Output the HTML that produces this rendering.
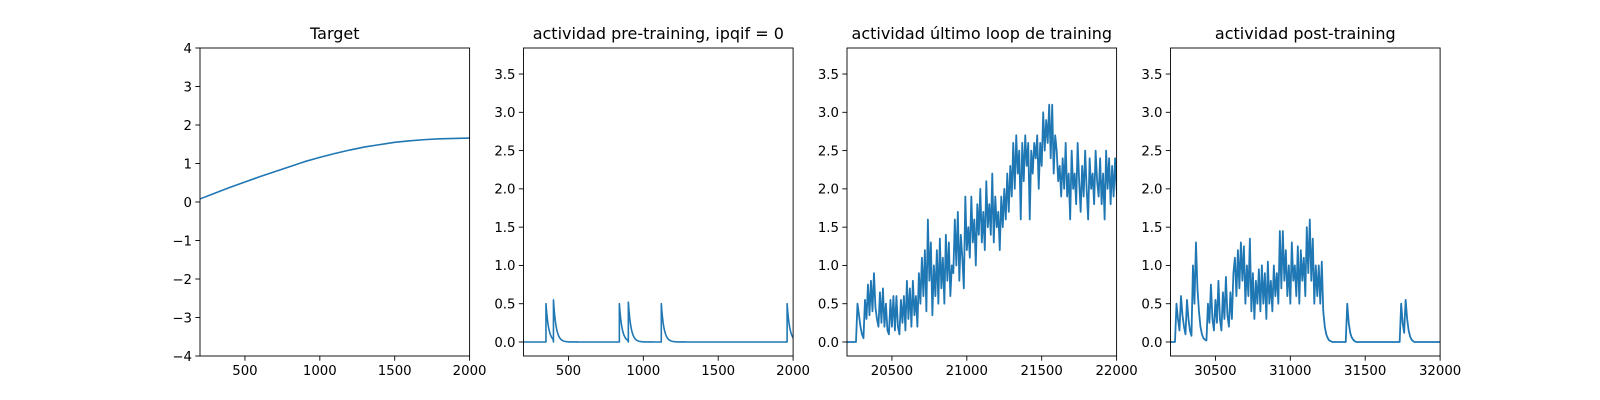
<!DOCTYPE html>
<html><head><meta charset="utf-8"><style>
body{margin:0;background:#fff;}
svg{display:block;font-family:"DejaVu Sans","Liberation Sans",sans-serif;}
</style></head><body>
<svg id="fig" width="1600" height="400" viewBox="0 0 1600 400"></svg>
<script>
// ---- data ----
const p1X = [200,300,400,500,600,700,800,900,1000,1100,1200,1300,1400,1500,1600,1700,1800,1900,2000];
const p1Y = [0.08,0.23,0.38,0.52,0.66,0.79,0.92,1.05,1.16,1.26,1.35,1.43,1.49,1.55,1.59,1.62,1.64,1.65,1.66];

const p2SpikeTimes = [350,400,840,900,1120,1960];
const p2SpikeHeights = [0.5,0.55,0.5,0.52,0.5,0.5];

const p3Starts = [20200,20270,20320,20420,20520,20620,20720,20820,20920,21020,21120,21220,21320,21420,21520,21620,21720,21820,21920];
const p3Values = [
[0,0,0,0,0,0,0],
[0.5,0.35,0.2,0.1,0.05],
[0.55,0.3,0.75,0.35,0.8,0.4,0.9,0.45,0.3,0.2],
[0.65,0.25,0.7,0.2,0.5,0.15,0.1,0.55,0.2,0.6],
[0.15,0.6,0.2,0.1,0.55,0.25,0.6,0.15,0.8,0.3],
[0.7,0.2,0.8,0.35,0.6,0.2,0.9,0.5,1.1,0.6],
[1.2,0.4,1.6,0.8,1.3,0.35,1.0,0.6,1.2,0.5],
[1.35,0.7,1.1,0.5,1.4,0.8,1.3,0.6,1.0,0.9],
[1.6,1.0,1.7,0.8,1.4,1.1,0.7,1.9,1.2,1.5],
[1.1,1.9,1.3,1.6,1.0,1.8,1.4,2.0,1.3,1.7],
[1.2,2.1,1.5,1.8,1.4,2.2,1.3,1.9,1.5,1.7],
[1.2,1.9,1.5,2.0,1.6,2.2,1.7,2.3,1.9,2.6],
[2.0,2.7,2.2,2.5,1.6,2.6,2.1,2.7,2.3,2.6],
[1.6,2.5,2.2,2.6,2.4,2.7,2.0,2.6,2.3,3.0],
[2.5,2.9,2.6,3.1,2.4,3.1,2.2,2.7,2.5,2.1],
[2.3,1.9,2.4,2.0,2.6,1.9,2.2,1.6,2.5,2.0],
[2.2,1.8,2.6,2.1,1.7,2.3,1.9,2.5,2.0,1.6],
[2.4,2.0,2.2,1.8,2.5,2.1,1.9,2.4,1.8,2.2],
[1.6,2.5,2.0,2.4,1.8,2.3,1.9,2.4,2.0,1.8]
];

const p4Starts = [30200,30240,30340,30440,30540,30640,30740,30840,30940,31040,31140,31240,31340,31440,31730,31830];
const p4Values = [
[0,0,0,0],
[0.5,0.3,0.15,0.6,0.35,0.2,0.1,0.55,0.3,0.15],
[0.08,1.0,0.5,1.3,0.7,0.4,0.2,0.1,0.05,0.03],
[0.02,0.5,0.25,0.75,0.3,0.15,0.55,0.25,0.8,0.3],
[0.15,0.65,0.3,0.85,0.35,0.2,0.65,0.3,0.9,1.1],
[0.6,1.2,0.7,1.3,0.8,1.25,0.5,1.0,0.6,1.35],
[0.4,0.9,0.3,0.8,0.5,0.95,0.4,1.0,0.5,0.9],
[0.3,1.05,0.5,0.8,0.4,1.0,0.6,0.9,0.5,1.45],
[0.7,1.45,0.8,1.2,0.6,1.0,0.5,1.3,0.8,1.0],
[0.6,1.25,0.5,1.2,0.8,1.1,0.6,1.5,0.9,1.6],
[0.8,1.35,0.5,1.0,0.6,1.0,0.5,1.05,0.4,0.2],
[0.1,0.05,0.02,0.01,0,0,0,0,0,0],
[0,0,0,0,0.5,0.25,0.12,0.06,0.03,0.01],
[0,0],
[0,0.5,0.25,0.12,0.55,0.3,0.15,0.07,0.03,0.01],
[0,0]
];

const p1YTicks = [-4,-3,-2,-1,0,1,2,3,4];
const actYTicks = [0,0.5,1,1.5,2,2.5,3,3.5];
const p1XTicks = [500,1000,1500,2000];
const p3XTicks = [20500,21000,21500,22000];
const p4XTicks = [30500,31000,31500,32000];

// ---- layout ----
const NS = "http://www.w3.org/2000/svg";
const svg = document.getElementById('fig');
const axTop = 48, axBot = 356, W = 269.6, gap = 53.9, L0 = 200;
const blue = "#1f77b4";
function mk(tag, attrs, parent){const e=document.createElementNS(NS,tag);for(const k in attrs)e.setAttribute(k,attrs[k]);(parent||svg).appendChild(e);return e;}

function panel(i, xmin, xmax, ymin, ymax, xt, yt, yfmt, title, name){
  const left = L0 + i*(W+gap), right = left+W;
  const sx = v => left + (v-xmin)/(xmax-xmin)*W;
  const sy = v => axBot - (v-ymin)/(ymax-ymin)*(axBot-axTop);
  const g = mk('g',{});
  
  
  const clipId = 'clip'+i;
  const cp = mk('clipPath',{id:clipId},g);
  mk('rect',{x:left,y:axTop,width:W,height:axBot-axTop},cp);
  const t = mk('text',{x:left+W/2,y:39,'text-anchor':'middle','font-size':'16'},g);
  t.textContent = title;
  
  
  xt.forEach(v=>{
    const x=sx(v);
    mk('line',{x1:x,x2:x,y1:axBot,y2:axBot+4.7,stroke:'#000','stroke-width':0.9},g);
    const tx=mk('text',{x:x,y:axBot+19,'text-anchor':'middle','font-size':'13.3'},g);
    tx.textContent=String(v);
    
    
  });
  yt.forEach(v=>{
    const y=sy(v);
    mk('line',{x1:left-4.7,x2:left,y1:y,y2:y,stroke:'#000','stroke-width':0.9},g);
    const ty=mk('text',{x:left-8,y:y+4.8,'text-anchor':'end','font-size':'13.3'},g);
    ty.textContent=yfmt(v);
    
    
  });
  return {g, sx, sy, clipId, left, right};
}
function drawLine(p, pts, name, sw){
  const d = pts.map((q,k)=>(k?'L':'M')+p.sx(q[0]).toFixed(2)+','+p.sy(q[1]).toFixed(2)).join('');
  const path = mk('path',{d:d,fill:'none',stroke:blue,'stroke-width':sw||1.5,'stroke-linejoin':'round','clip-path':'url(#'+p.clipId+')'},p.g);
  
  
}
function frame(p){
  const r = mk('rect',{x:p.left,y:axTop,width:W,height:axBot-axTop,fill:'none',stroke:'#000','stroke-width':0.9},p.g);
  
  
}
function chunks(starts, vals){
  const pts=[];
  starts.forEach((s,ci)=>vals[ci].forEach((v,k)=>pts.push([s+k*10,v])));
  const last = pts[pts.length-1];
  pts.push([last[0]+400,0]);
  return pts;
}
const minus = s => s.replace('-','\u2212');
const f1 = v => minus(String(v));
const f2 = v => v.toFixed(1);
const YMIN=-0.183, YMAX=3.84;

// panel 1
const P1 = panel(0,200,2000,-4,4,p1XTicks,p1YTicks,f1,'Target','target-panel');
drawLine(P1, p1X.map((x,k)=>[x,p1Y[k]]), 'target-line', 1.6);
frame(P1);

// panel 2
const P2 = panel(1,200,2000,YMIN,YMAX,p1XTicks,actYTicks,f2,'actividad pre-training, ipqif = 0','pre-training-panel');
(function(){
  const pts=[[200,0]];
  const tau=18;
  p2SpikeTimes.forEach((t,k)=>{
    const next = k+1<p2SpikeTimes.length ? p2SpikeTimes[k+1] : 2100;
    pts.push([t,0]);
    for(let dt=0; t+dt<next; dt+=3){ pts.push([t+dt, p2SpikeHeights[k]*Math.exp(-dt/tau)]); }
  });
  pts.push([2100,0]);
  drawLine(P2, pts, 'pre-training-activity-line', 1.6);
})();
frame(P2);

// panel 3
const P3 = panel(2,20200,22000,YMIN,YMAX,p3XTicks,actYTicks,f2,'actividad último loop de training','last-loop-panel');
drawLine(P3, chunks(p3Starts,p3Values), 'last-loop-activity-line', 1.8);
frame(P3);

// panel 4
const P4 = panel(3,30200,32000,YMIN,YMAX,p4XTicks,actYTicks,f2,'actividad post-training','post-training-panel');
drawLine(P4, chunks(p4Starts,p4Values), 'post-training-activity-line', 1.8);
frame(P4);
</script>
</body></html>
